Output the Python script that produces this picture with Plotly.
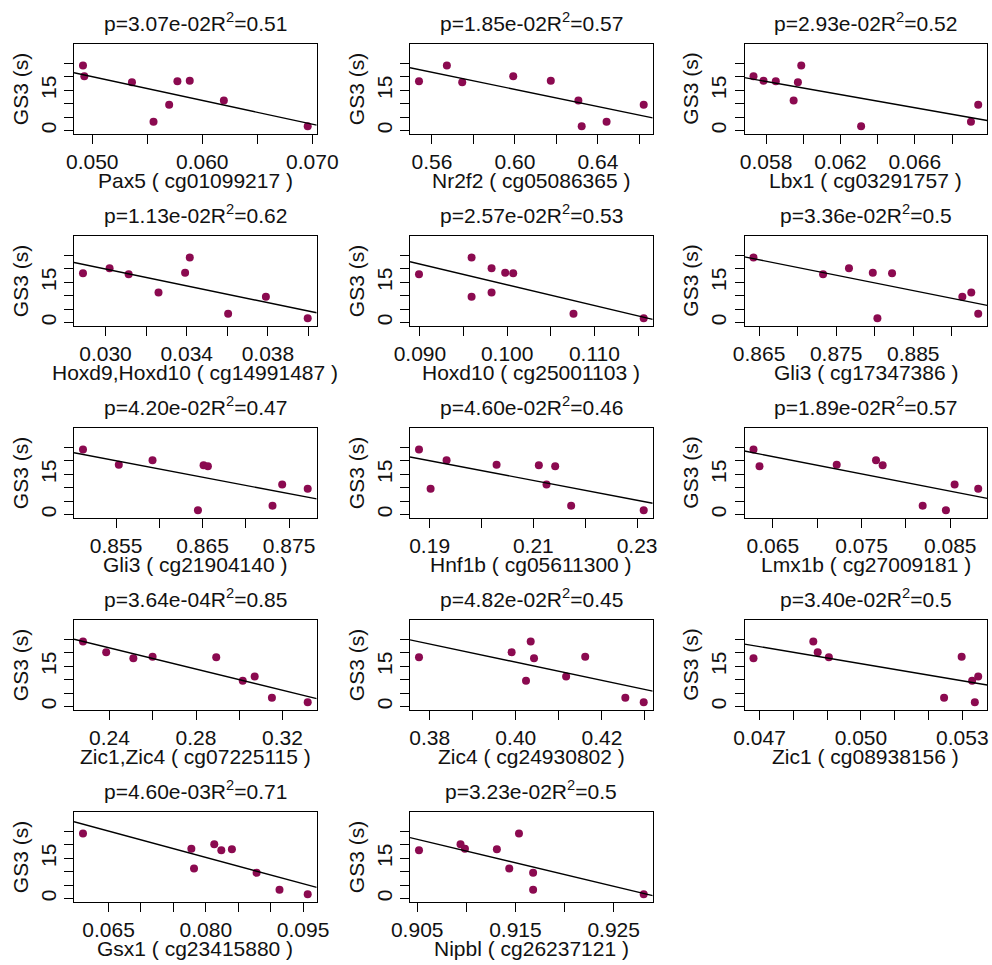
import numpy as np
import plotly.graph_objects as go

# GS3 (s) values for the 9 samples (same order in every panel)
gs3 = [24.3, 20.3, 18.6, 18.4, 18.0, 11.2, 9.6, 3.3, 1.6]
gs3_ticks = [0, 5, 10, 15, 20, 25]
gs3_labels = ["0", "", "", "15", "", ""]

# methylation values per CpG (same sample order as gs3)
pax5 = [0.04916, 0.04928, 0.05886, 0.05774, 0.05361, 0.06196, 0.05699, 0.05557, 0.06958]
nr2f2 = [0.5672, 0.5992, 0.6173, 0.55376, 0.5746, 0.6306, 0.6621, 0.6442, 0.6322]
lbx1 = [0.05989, 0.05732, 0.05786, 0.05852, 0.05971, 0.05948, 0.06941, 0.06902, 0.06311]
hoxd9 = [0.03415, 0.03020, 0.03392, 0.02889, 0.03114, 0.03261, 0.03790, 0.03604, 0.03996]
hoxd10 = [0.09592, 0.09821, 0.09977, 0.10069, 0.08989, 0.09821, 0.09592, 0.10760, 0.11565]
gli3a = [0.86427, 0.87666, 0.87975, 0.88225, 0.87330, 0.89253, 0.89137, 0.89343, 0.88035]
gli3b = [0.85117, 0.85921, 0.85531, 0.86511, 0.86561, 0.87420, 0.87715, 0.87308, 0.86446]
hnf1b = [0.18795, 0.19327, 0.20291, 0.21106, 0.21421, 0.21254, 0.19019, 0.21729, 0.23128]
lmx1b = [0.06282, 0.07663, 0.07220, 0.07738, 0.06350, 0.08549, 0.08815, 0.08189, 0.08451]
zic14 = [0.22774, 0.23847, 0.25992, 0.28935, 0.25103, 0.30713, 0.30161, 0.31510, 0.33165]
zic4 = [0.40346, 0.39903, 0.41612, 0.37751, 0.40423, 0.41169, 0.40237, 0.42544, 0.42971]
zic1 = [0.04859, 0.04872, 0.05298, 0.04905, 0.04682, 0.05347, 0.05329, 0.05246, 0.05337]
gsx1 = [0.06106, 0.08130, 0.07777, 0.08402, 0.08239, 0.07818, 0.08783, 0.09136, 0.09571]
nipbl = [0.91536, 0.90941, 0.90986, 0.91311, 0.90518, 0.91437, 0.91680, 0.91680, 0.92806]

x_names = ["Pax5 ( cg01099217 )", "Nr2f2 ( cg05086365 )", "Lbx1 ( cg03291757 )",
           "Hoxd9,Hoxd10 ( cg14991487 )", "Hoxd10 ( cg25001103 )", "Gli3 ( cg17347386 )",
           "Gli3 ( cg21904140 )", "Hnf1b ( cg05611300 )", "Lmx1b ( cg27009181 )",
           "Zic1,Zic4 ( cg07225115 )", "Zic4 ( cg24930802 )", "Zic1 ( cg08938156 )",
           "Gsx1 ( cg23415880 )", "Nipbl ( cg26237121 )"]
p_values = ["3.07e-02", "1.85e-02", "2.93e-02", "1.13e-02", "2.57e-02", "3.36e-02", "4.20e-02",
            "4.60e-02", "1.89e-02", "3.64e-04", "4.82e-02", "3.40e-02", "4.60e-03", "3.23e-02"]
r2_values = ["0.51", "0.57", "0.52", "0.62", "0.53", "0.5", "0.47",
             "0.46", "0.57", "0.85", "0.45", "0.5", "0.71", "0.5"]

# x tick values and labels per panel ("" = tick without label)
pax5_ticks = [0.050, 0.055, 0.060, 0.065, 0.070]
pax5_labels = ["0.050", "", "0.060", "", "0.070"]
nr2f2_ticks = [0.56, 0.58, 0.60, 0.62, 0.64, 0.66]
nr2f2_labels = ["0.56", "", "0.60", "", "0.64", ""]
lbx1_ticks = [0.058, 0.060, 0.062, 0.064, 0.066, 0.068]
lbx1_labels = ["0.058", "", "0.062", "", "0.066", ""]
hoxd9_ticks = [0.030, 0.032, 0.034, 0.036, 0.038, 0.040]
hoxd9_labels = ["0.030", "", "0.034", "", "0.038", ""]
hoxd10_ticks = [0.090, 0.095, 0.100, 0.105, 0.110, 0.115]
hoxd10_labels = ["0.090", "", "0.100", "", "0.110", ""]
gli3a_ticks = [0.865, 0.870, 0.875, 0.880, 0.885, 0.890]
gli3a_labels = ["0.865", "", "0.875", "", "0.885", ""]
gli3b_ticks = [0.855, 0.860, 0.865, 0.870, 0.875]
gli3b_labels = ["0.855", "", "0.865", "", "0.875"]
hnf1b_ticks = [0.19, 0.20, 0.21, 0.22, 0.23]
hnf1b_labels = ["0.19", "", "0.21", "", "0.23"]
lmx1b_ticks = [0.065, 0.070, 0.075, 0.080, 0.085]
lmx1b_labels = ["0.065", "", "0.075", "", "0.085"]
zic14_ticks = [0.24, 0.26, 0.28, 0.30, 0.32]
zic14_labels = ["0.24", "", "0.28", "", "0.32"]
zic4_ticks = [0.38, 0.39, 0.40, 0.41, 0.42, 0.43]
zic4_labels = ["0.38", "", "0.40", "", "0.42", ""]
zic1_ticks = [0.047, 0.048, 0.049, 0.050, 0.051, 0.052, 0.053]
zic1_labels = ["0.047", "", "", "0.050", "", "", "0.053"]
gsx1_ticks = [0.065, 0.070, 0.075, 0.080, 0.085, 0.090, 0.095]
gsx1_labels = ["0.065", "", "", "0.080", "", "", "0.095"]
nipbl_ticks = [0.905, 0.910, 0.915, 0.920, 0.925]
nipbl_labels = ["0.905", "", "0.915", "", "0.925"]

panels = [
    (pax5, pax5_ticks, pax5_labels), (nr2f2, nr2f2_ticks, nr2f2_labels),
    (lbx1, lbx1_ticks, lbx1_labels), (hoxd9, hoxd9_ticks, hoxd9_labels),
    (hoxd10, hoxd10_ticks, hoxd10_labels), (gli3a, gli3a_ticks, gli3a_labels),
    (gli3b, gli3b_ticks, gli3b_labels), (hnf1b, hnf1b_ticks, hnf1b_labels),
    (lmx1b, lmx1b_ticks, lmx1b_labels), (zic14, zic14_ticks, zic14_labels),
    (zic4, zic4_ticks, zic4_labels), (zic1, zic1_ticks, zic1_labels),
    (gsx1, gsx1_ticks, gsx1_labels), (nipbl, nipbl_ticks, nipbl_labels),
]

W, H = 992, 965
COL_LEFT = [74, 410, 744.5]
ROW_TOP = [44.3, 236.3, 428.3, 620.3, 812.3]
BOX_W, BOX_H = 242.7, 89.7
FONT = "Liberation Sans, Arimo, Arial, sans-serif"
FS = 21
PT_COLOR = "#8B0A50"
TICKLEN = 9


def px(xp):
    return xp / W


def py(yp):
    return 1 - yp / H


def split_ticks(vals, labs):
    major = [v for v, l in zip(vals, labs) if l]
    major_txt = [l for l in labs if l]
    minor = [v for v, l in zip(vals, labs) if not l]
    return major, major_txt, minor


fig = go.Figure()
annotations = []
layout = {}
y = np.array(gs3)
ymaj, ytxt, ymin = split_ticks(gs3_ticks, gs3_labels)
for i, (xv, ticks, labels) in enumerate(panels):
    r, c = divmod(i, 3)
    left, top = COL_LEFT[c], ROW_TOP[r]
    right, bottom = left + BOX_W, top + BOX_H
    n = i + 1
    xa = "x" if n == 1 else f"x{n}"
    ya = "y" if n == 1 else f"y{n}"
    x = np.array(xv)
    span = x.max() - x.min()
    xr = [x.min() - 0.04 * span, x.max() + 0.04 * span]
    slope, icpt = np.polyfit(x, y, 1)
    fig.add_trace(go.Scatter(x=x, y=y, mode="markers", xaxis=xa, yaxis=ya,
                             marker=dict(color=PT_COLOR, size=8), showlegend=False,
                             hoverinfo="skip"))
    fig.add_trace(go.Scatter(x=xr, y=[icpt + slope * xr[0], icpt + slope * xr[1]],
                             mode="lines", xaxis=xa, yaxis=ya,
                             line=dict(color="black", width=1.4), showlegend=False,
                             hoverinfo="skip"))
    common = dict(showline=True, linecolor="black", linewidth=1, mirror=True,
                  ticks="outside", ticklen=TICKLEN, tickwidth=1, tickcolor="black",
                  showgrid=False, zeroline=False, automargin=False,
                  tickfont=dict(family=FONT, size=FS, color="#111"))
    xmaj, xtxt, xmin_t = split_ticks(ticks, labels)
    layout["xaxis" if n == 1 else f"xaxis{n}"] = dict(
        domain=[px(left), px(right)], range=xr, anchor=ya,
        tickmode="array", tickvals=xmaj, ticktext=xtxt,
        minor=dict(tickmode="array", tickvals=xmin_t, ticks="outside", ticklen=TICKLEN,
                   tickwidth=1, tickcolor="black", showgrid=False),
        **common)
    layout["yaxis" if n == 1 else f"yaxis{n}"] = dict(
        domain=[py(bottom), py(top)], range=[-1.3, 32.2], anchor=xa,
        tickmode="array", tickvals=ymaj, ticktext=ytxt, tickangle=-90,
        minor=dict(tickmode="array", tickvals=ymin, ticks="outside", ticklen=TICKLEN,
                   tickwidth=1, tickcolor="black", showgrid=False),
        **common)
    cx = (left + right) / 2
    annotations.append(dict(text=f"p={p_values[i]}R<sup>2</sup>={r2_values[i]}",
                            x=px(cx), y=py(top - 22), xref="paper", yref="paper",
                            showarrow=False, xanchor="center", yanchor="middle",
                            font=dict(family=FONT, size=FS, color="#111")))
    annotations.append(dict(text=x_names[i], x=px(cx), y=py(bottom + 46),
                            xref="paper", yref="paper", showarrow=False,
                            xanchor="center", yanchor="middle",
                            font=dict(family=FONT, size=FS, color="#111")))
    annotations.append(dict(text="GS3 (s)", x=px(left - 54), y=py((top + bottom) / 2),
                            xref="paper", yref="paper", showarrow=False, textangle=-90,
                            xanchor="center", yanchor="middle",
                            font=dict(family=FONT, size=FS, color="#111")))

fig.update_layout(template="none", width=W, height=H,
                  margin=dict(l=0, r=0, t=0, b=0, pad=0), autosize=False,
                  paper_bgcolor="white", plot_bgcolor="white", showlegend=False,
                  hovermode=False, annotations=annotations, **layout)
fig.write_html("out.html", config={"displayModeBar": False, "staticPlot": True},
               post_script="document.body.style.margin='0';document.body.style.overflow='hidden';")
